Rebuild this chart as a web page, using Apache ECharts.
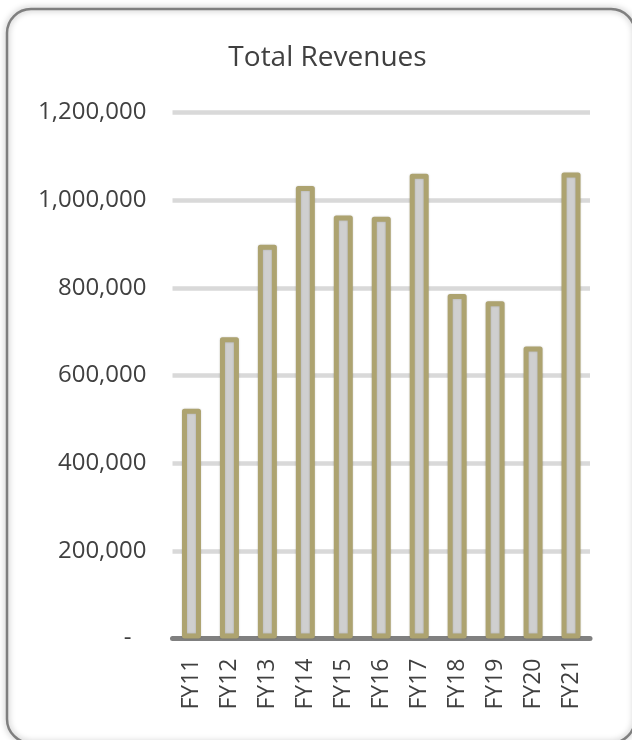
<!DOCTYPE html>
<html>
<head>
<meta charset="utf-8">
<script src="https://cdn.jsdelivr.net/npm/echarts@6/dist/echarts.min.js"></script>
<style>
  html, body { margin: 0; padding: 0; background: #ffffff; }
  #chart { width: 632px; height: 740px; }
</style>
</head>
<body>
<div id="chart"></div>
<script>
// Fiscal years and total revenues
const categories = ['FY11', 'FY12', 'FY13', 'FY14', 'FY15', 'FY16', 'FY17', 'FY18', 'FY19', 'FY20', 'FY21'];
const revenues = [524000, 687000, 898000, 1032000, 965000, 962000, 1060000, 786000, 769000, 666000, 1063000];
const yTicks = [0, 200000, 400000, 600000, 800000, 1000000, 1200000];
const titleText = 'Total Revenues';

const font = '"Open Sans", "Noto Sans", sans-serif';
const chart = echarts.init(document.getElementById('chart'), null, { renderer: 'canvas' });

chart.setOption({
  backgroundColor: '#ffffff',
  animation: false,
  graphic: [
    {
      type: 'rect',
      shape: { x: 7, y: 9, width: 628, height: 734, r: 24 },
      style: {
        fill: 'none',
        stroke: '#7f7f7f',
        lineWidth: 2.5,
        shadowBlur: 6,
        shadowColor: 'rgba(0,0,0,0.35)'
      },
      z: 0
    },
    {
      type: 'text',
      x: 327.5,
      y: 58,
      style: {
        text: titleText,
        align: 'center',
        verticalAlign: 'middle',
        fontFamily: font,
        fontSize: 28,
        fill: '#404040'
      }
    }
  ],
  grid: { left: 172.5, right: 42, top: 112.4, bottom: 101.5, containLabel: false },
  xAxis: {
    type: 'category',
    data: categories,
    axisLine: { show: true, lineStyle: { color: '#808080', width: 5 } },
    axisTick: { show: false },
    axisLabel: {
      rotate: 90,
      margin: 20,
      fontFamily: font,
      fontSize: 23,
      color: '#404040'
    }
  },
  yAxis: {
    type: 'value',
    min: yTicks[0],
    max: yTicks[yTicks.length - 1],
    interval: yTicks[1] - yTicks[0],
    axisLine: { show: false },
    axisTick: { show: false },
    splitLine: { lineStyle: { color: '#d9d9d9', width: 4.5 } },
    axisLabel: {
      margin: 26,
      fontFamily: font,
      fontSize: 24,
      color: '#404040',
      formatter: function (v) {
        return v === 0 ? '{dash|-}' : v.toLocaleString('en-US');
      },
      rich: {
        dash: { fontFamily: font, fontSize: 24, color: '#404040', padding: [0, 15, 0, 0] }
      }
    }
  },
  series: [
    {
      type: 'bar',
      data: revenues,
      barWidth: 19,
      itemStyle: {
        color: '#cfcfcf',
        borderColor: '#ada370',
        borderWidth: 5,
        borderJoin: 'round',
        shadowBlur: 2,
        shadowColor: 'rgba(0,0,0,0.18)'
      }
    }
  ]
});
</script>
</body>
</html>
